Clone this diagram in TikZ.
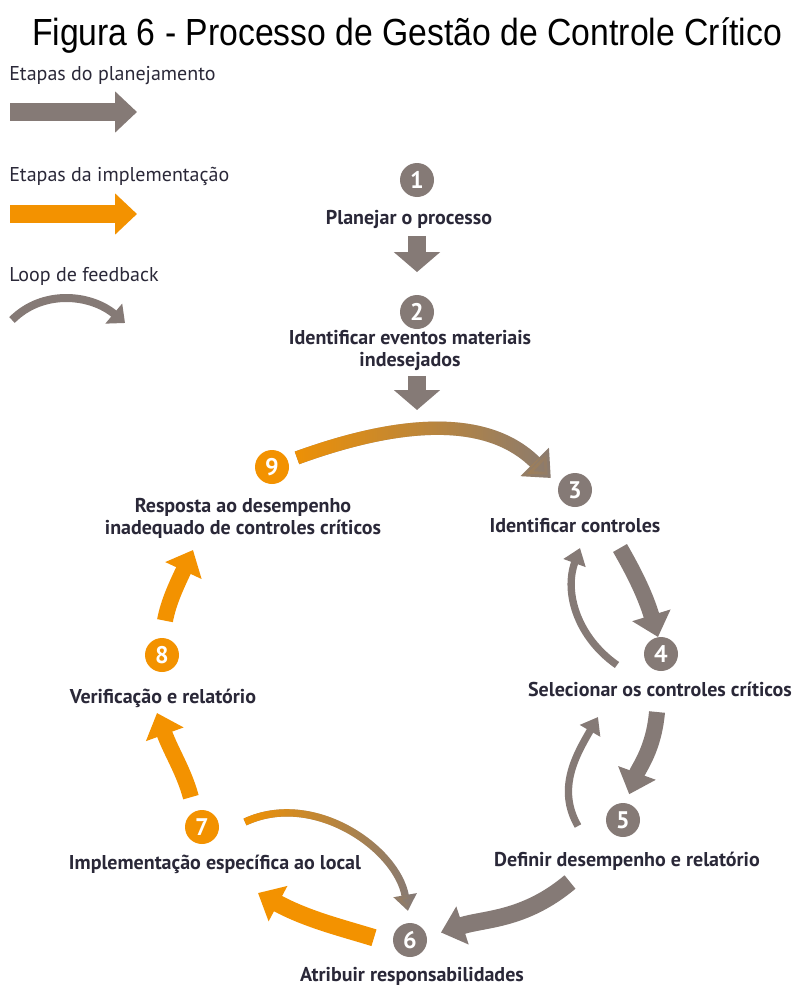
\documentclass[tikz,border=0pt]{standalone}
\usepackage{fontspec}
\setmainfont{PT Sans}
\newfontfamily\titlefont{Liberation Sans}
\usetikzlibrary{arrows.meta,fadings}
\definecolor{stepgray}{HTML}{857A76}
\definecolor{steporange}{HTML}{F39200}
\definecolor{labelink}{HTML}{2A2838}
% opaque on the left, transparent on the right: orange blends into gray
\tikzfading[name=tocool, left color=transparent!0, middle color=transparent!25,
  right color=transparent!100]

\begin{document}
\begin{tikzpicture}[x=0.75pt,y=0.75pt,
  num/.style={circle, minimum size=25.5pt, inner sep=0pt, text=white,
    font=\bfseries\fontsize{18}{18}\selectfont},
  plannum/.style={num, fill=stepgray},
  implnum/.style={num, fill=steporange},
  lab/.style={text=labelink, font=\bfseries\fontsize{15}{16.5}\selectfont,
    align=center, inner sep=1pt},
  legendtext/.style={text=labelink, font=\fontsize{15}{18}\selectfont,
    anchor=west, inner sep=0pt},
  bigarrow/.style={line width=12pt, -{Triangle[width=29pt,length=17pt]}},
  planarrow/.style={bigarrow, draw=stepgray},
  implarrow/.style={bigarrow, draw=steporange},
  downarrow/.style={draw=stepgray, line width=13pt,
    -{Triangle[width=34pt,length=15pt]}},
  loopback/.style={draw=stepgray, line width=5.5pt,
    -{Triangle[width=17pt,length=12pt]}},
]
\useasboundingbox (0,0) rectangle (798,-985);

% title
\node[anchor=base, inner sep=0pt, font=\titlefont\fontsize{25.3}{30}\selectfont]
  (title) at (407,-45) {\scalebox{1}[1.12]{Figura 6 - Processo de Gestão de Controle Crítico}};

% legend
\node[legendtext] (lgplan) at (9,-76) {Etapas do planejamento};
\node[legendtext] (lgimpl) at (9,-176) {Etapas da implementação};
\node[legendtext] (lgloop) at (9,-276) {Loop de feedback};
\coordinate (lgplanA) at (10,-112);  \coordinate (lgplanB) at (137,-112);
\coordinate (lgimplA) at (10,-214);  \coordinate (lgimplB) at (137,-214);
\coordinate (lgloopA) at (12,-320);  \coordinate (lgloopB) at (125,-323);
\draw[draw=stepgray, line width=13.5pt, -{Triangle[width=30pt,length=16.5pt]}]
  (lgplanA) -- (lgplanB);
\draw[draw=steporange, line width=13.5pt, -{Triangle[width=30pt,length=16.5pt]}]
  (lgimplA) -- (lgimplB);
\draw[draw=stepgray, line width=6pt, -{Triangle[width=19pt,length=11pt]}]
  (lgloopA) to[out=45,in=140] (lgloopB);

% numbered steps
\node[plannum] (n1) at (417,-180) {1};
\node[plannum] (n2) at (417,-312) {2};
\node[plannum] (n3) at (575,-490) {3};
\node[plannum] (n4) at (661,-654) {4};
\node[plannum] (n5) at (623,-820) {5};
\node[plannum] (n6) at (410,-940) {6};
\node[implnum] (n7) at (202,-827) {7};
\node[implnum] (n8) at (162,-655) {8};
\node[implnum] (n9) at (272,-467) {9};

% step labels
\node[lab] (l1) at (409,-219) {Planejar o processo};
\node[lab] (l2) at (410,-350) {Identificar eventos materiais\\indesejados};
\node[lab] (l3) at (575,-526) {Identificar controles};
\node[lab] (l4) at (660,-689) {Selecionar os controles críticos};
\node[lab] (l5) at (627,-861) {Definir desempenho e relatório};
\node[lab] (l6) at (412,-976) {Atribuir responsabilidades};
\node[lab] (l7) at (215,-864) {Implementação específica ao local};
\node[lab] (l8) at (163,-698) {Verificação e relatório};
\node[lab] (l9) at (243,-518) {Resposta ao desempenho\\inadequado de controles críticos};

% free ends of the connectors
\coordinate (c2) at (417,-410);
\coordinate (s34) at (620,-548);
\coordinate (s45) at (657,-712);
\coordinate (s56) at (570,-882);
\coordinate (e67) at (258,-893);
\coordinate (e78) at (157,-713);
\coordinate (e89) at (193,-550);
\coordinate (sf43) at (617,-665); \coordinate (ef43) at (580,-548);
\coordinate (sf54) at (578,-826); \coordinate (ef54) at (598,-717);
\coordinate (sf76) at (245,-822);

% planning steps
\draw[downarrow, shorten <=4.5pt, shorten >=17pt] (l1.south -| n2) -- (n2.north);
\draw[downarrow, shorten <=3pt] (l2.south -| c2) -- (c2);

% 9 -> 3, orange turning gray
\draw[planarrow, line width=10pt, shorten <=7pt, shorten >=8pt]
  (n9.20) to[out=20,in=135] (n3.165);
\draw[implarrow, line width=10pt, shorten <=7pt, shorten >=8pt, path fading=tocool]
  (n9.20) to[out=20,in=135] (n3.165);

% main cycle
\draw[planarrow] (s34) to[out=-60,in=107] (n4.100);
\draw[planarrow, shorten >=7pt] (s45) to[out=-95,in=70] (n5.80);
\draw[planarrow, line width=13pt, shorten >=11pt] (s56) to[out=-140,in=18] (n6.10);
\draw[implarrow, line width=13pt, shorten <=15pt] (n6.192) to[out=163,in=-28] (e67);
\draw[implarrow, shorten <=11pt] (n7.115) to[out=105,in=-70] (e78);
\draw[implarrow, shorten <=13pt] (n8.north) to[out=80,in=-115] (e89);

% feedback loops
\draw[loopback] (sf43) to[out=145,in=-110] (ef43);
\draw[loopback] (sf54) to[out=120,in=-120] (ef54);
\draw[loopback, shorten >=9pt] (sf76) to[out=25,in=100] (n6.north);
\draw[loopback, draw=steporange, path fading=tocool, shorten >=9pt]
  (sf76) to[out=25,in=100] (n6.north);
\end{tikzpicture}
\end{document}
